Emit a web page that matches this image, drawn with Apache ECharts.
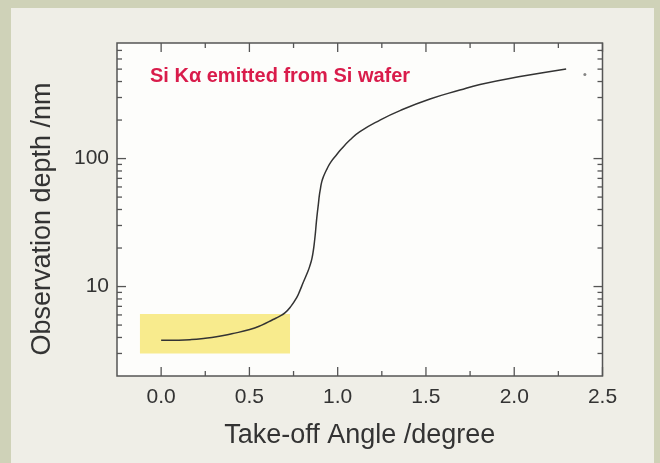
<!DOCTYPE html>
<html>
<head>
<meta charset="utf-8">
<script src="https://cdn.jsdelivr.net/npm/echarts@6/dist/echarts.min.js"></script>
<style>
  html, body { margin: 0; padding: 0; background: #cfd2b8; width: 660px; height: 463px; overflow: hidden; }
  #chart { position: absolute; left: 11px; top: 8px; width: 643px; height: 455px; background: #efeee7; }
</style>
</head>
<body>
<div id="chart"></div>
<script>
  // take-off angle (degree) vs observation depth (nm)
  const angles = [0, 0.1, 0.172, 0.24, 0.313, 0.4, 0.502, 0.57, 0.634, 0.67, 0.701, 0.735, 0.767,
    0.786, 0.804, 0.831, 0.842, 0.854, 0.862, 0.868, 0.874, 0.879, 0.885, 0.891, 0.896, 0.902,
    0.91, 0.922, 0.939, 0.961, 0.995, 1.018, 1.069, 1.126, 1.24, 1.353, 1.523, 1.692, 1.806,
    2.033, 2.294];
  const depths = [3.8, 3.81, 3.85, 3.93, 4.05, 4.28, 4.61, 5.0, 5.53, 5.85, 6.23, 7.0, 8.16,
    9.3, 10.7, 13.1, 14.45, 16.55, 19.1, 22.1, 26.4, 31.6, 37.9, 44.5, 51.4, 57.8,
    66.1, 73.7, 82.8, 93.9, 107.5, 117.6, 139.5, 162.5, 200, 237, 292, 343, 379,
    437, 502];
  const strayPoint = [2.40, 453];

  const highlightX = [-0.12, 0.73];
  const highlightY = [3.0, 6.1];

  const xRange = [-0.25, 2.5];
  const yRange = [2, 800];
  const xMajorTicks = [0, 0.5, 1.0, 1.5, 2.0, 2.5];
  const xMinorTicks = [0.25, 0.75, 1.25, 1.75, 2.25];
  const yMajorTicks = [10, 100];
  const yMinorTicks = [3, 4, 5, 6, 7, 8, 9, 20, 30, 40, 50, 60, 70, 80, 90, 200, 300, 400, 500, 600, 700];

  const chart = echarts.init(document.getElementById('chart'));

  // tick marks: [x, y, kind(0 = x tick, 1 = y tick), length]
  let tickData = [];
  xMajorTicks.forEach(v => tickData.push([v, yRange[0], 0, 9]));
  xMinorTicks.forEach(v => tickData.push([v, yRange[0], 0, 5]));
  yMajorTicks.forEach(v => tickData.push([xRange[0], v, 1, 9]));
  yMinorTicks.forEach(v => tickData.push([xRange[0], v, 1, 5]));

  function renderTick(params, api) {
    const cs = params.coordSys;
    const p = api.coord([api.value(0), api.value(1)]);
    const len = api.value(3);
    const style = { stroke: '#555', lineWidth: 1.3 };
    if (api.value(2) === 0) {
      return {
        type: 'group',
        children: [
          { type: 'line', shape: { x1: p[0], y1: cs.y + cs.height, x2: p[0], y2: cs.y + cs.height - len }, style: style },
          { type: 'line', shape: { x1: p[0], y1: cs.y, x2: p[0], y2: cs.y + len }, style: style }
        ]
      };
    }
    return {
      type: 'group',
      children: [
        { type: 'line', shape: { x1: cs.x, y1: p[1], x2: cs.x + len, y2: p[1] }, style: style },
        { type: 'line', shape: { x1: cs.x + cs.width, y1: p[1], x2: cs.x + cs.width - len, y2: p[1] }, style: style }
      ]
    };
  }

  const option = {
    animation: false,
    textStyle: { fontFamily: 'Liberation Sans, Arial, sans-serif' },
    grid: {
      left: 106, top: 35, right: 51.5, bottom: 87,
      show: true, backgroundColor: '#fdfdfb', borderColor: '#555', borderWidth: 1.5
    },
    xAxis: {
      type: 'value',
      min: xRange[0], max: xRange[1], interval: 0.25,
      axisLine: { show: false },
      axisTick: { show: false },
      splitLine: { show: false },
      axisLabel: {
        color: '#333', fontSize: 21, margin: 11,
        formatter: v => Math.abs(v * 2 - Math.round(v * 2)) < 1e-6 ? v.toFixed(1) : ''
      },
      name: 'Take-off Angle /degree',
      nameLocation: 'middle',
      nameGap: 46,
      nameTextStyle: { color: '#333', fontSize: 27 }
    },
    yAxis: {
      type: 'log',
      min: yRange[0], max: yRange[1],
      axisLine: { show: false },
      axisTick: { show: false },
      splitLine: { show: false },
      axisLabel: {
        color: '#333', fontSize: 21, margin: 8,
        formatter: v => (yMajorTicks.indexOf(Math.round(v)) >= 0 ? String(Math.round(v)) : '')
      }
    },
    graphic: [
      {
        type: 'text',
        left: 139, top: 58,
        style: {
          text: 'Si K\u03b1 emitted from Si wafer',
          fill: '#d91c4b',
          font: 'bold 20px "Liberation Sans", Arial, sans-serif'
        }
      },
      {
        type: 'text',
        x: 32, y: 211,
        rotation: Math.PI / 2,
        style: {
          text: 'Observation depth /nm',
          fill: '#333',
          font: '27px "Liberation Sans", Arial, sans-serif',
          align: 'center',
          verticalAlign: 'middle'
        }
      }
    ],
    series: [
      {
        type: 'line',
        data: [],
        z: 1,
        markArea: {
          silent: true,
          itemStyle: { color: '#f8eb8d', opacity: 1 },
          data: [[{ coord: [highlightX[0], highlightY[0]] }, { coord: [highlightX[1], highlightY[1]] }]]
        }
      },
      {
        type: 'line',
        z: 3,
        data: angles.map((a, i) => [a, depths[i]]),
        showSymbol: false,
        smooth: 0.5,
        lineStyle: { color: '#333', width: 1.5 }
      },
      {
        type: 'scatter',
        z: 3,
        data: [strayPoint],
        symbolSize: 3,
        itemStyle: { color: '#666' }
      },
      {
        type: 'custom',
        z: 4,
        data: tickData,
        renderItem: renderTick,
        silent: true
      }
    ]
  };

  chart.setOption(option);
</script>
</body>
</html>
